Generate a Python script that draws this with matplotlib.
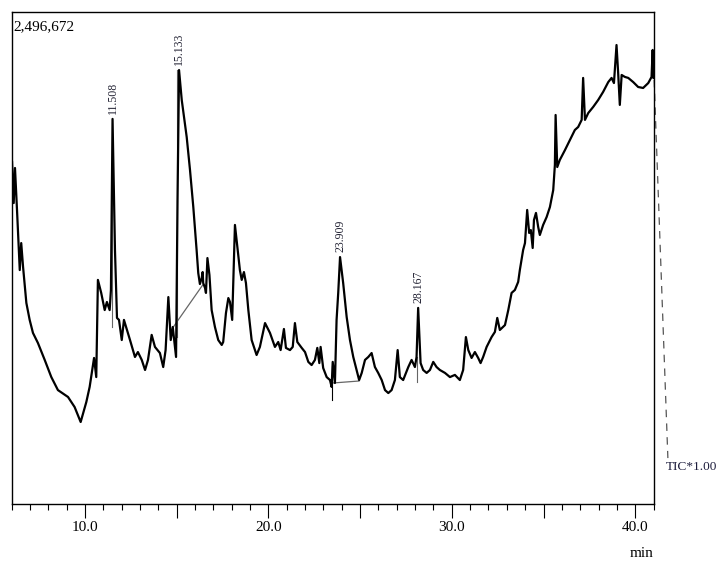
import matplotlib
matplotlib.use("Agg")
import matplotlib.pyplot as plt
from matplotlib.ticker import MultipleLocator, FuncFormatter

plt.rcParams['font.family'] = ['Liberation Serif', 'DejaVu Serif']

# retention time (min) and TIC intensity (x1000 counts)
rt = [6.03, 6.12, 6.19, 6.30, 6.45, 6.53, 6.63, 6.81, 6.99, 7.17, 7.44, 7.81, 8.17, 8.53, 9.08,
      9.44, 9.77, 10.08, 10.26, 10.50, 10.62, 10.71, 10.89, 11.08, 11.20, 11.35, 11.42, 11.508,
      11.64, 11.75, 11.86, 12.01, 12.13, 12.46, 12.73, 12.89, 13.10, 13.28, 13.44, 13.64, 13.82,
      14.09, 14.27, 14.40, 14.55, 14.68, 14.79, 14.91, 14.97, 15.05, 15.133, 15.28, 15.55, 15.73,
      15.91, 16.09, 16.18, 16.27, 16.37, 16.42, 16.45, 16.55, 16.60, 16.68, 16.79, 16.91, 17.09,
      17.27, 17.46, 17.54, 17.69, 17.82, 17.91, 18.03, 18.18, 18.27, 18.45, 18.55, 18.67, 18.78,
      18.91, 19.09, 19.36, 19.54, 19.82, 20.09, 20.36, 20.54, 20.67, 20.85, 20.96, 21.18, 21.33,
      21.45, 21.58, 21.82, 22.00, 22.18, 22.36, 22.54, 22.67, 22.78, 22.85, 22.99, 23.18, 23.36,
      23.45, 23.51, 23.63, 23.72, 23.81, 23.909, 24.08, 24.27, 24.45, 24.63, 24.81, 24.95, 25.09,
      25.27, 25.45, 25.63, 25.81, 25.99, 26.18, 26.36, 26.54, 26.72, 26.90, 27.05, 27.17, 27.35,
      27.63, 27.81, 27.99, 28.08, 28.167, 28.30, 28.44, 28.63, 28.81, 28.99, 29.17, 29.35, 29.63,
      29.90, 30.17, 30.44, 30.62, 30.77, 30.90, 31.08, 31.26, 31.44, 31.57, 31.71, 31.90, 32.17,
      32.35, 32.48, 32.62, 32.90, 33.08, 33.26, 33.44, 33.62, 33.71, 33.89, 33.99, 34.11, 34.22,
      34.31, 34.41, 34.48, 34.59, 34.71, 34.80, 34.98, 35.17, 35.35, 35.53, 35.62, 35.66, 35.75,
      35.89, 36.17, 36.44, 36.71, 36.89, 37.08, 37.16, 37.26, 37.44, 37.71, 37.98, 38.25, 38.53,
      38.71, 38.84, 38.98, 39.07, 39.16, 39.26, 39.44, 39.62, 39.89, 40.16, 40.43, 40.71, 40.89,
      40.95, 41.00]
tic = [1735, 1527, 1705, 1492, 1187, 1324, 1203, 1020, 934, 868, 817, 731, 644, 578, 543,
       492, 416, 518, 594, 741, 644, 1137, 1071, 984, 1025, 984, 1086, 1954,
       1289, 944, 934, 832, 934, 832, 746, 771, 731, 680, 731, 858, 797,
       766, 695, 781, 1050, 832, 898, 797, 746, 1543, 2202, 2050, 1862, 1695,
       1507, 1289, 1172, 1116, 1147, 1177, 1121, 1096, 1071, 1248, 1162, 984, 898,
       832, 807, 822, 969, 1045, 1025, 934, 1416, 1340, 1187, 1137, 1177, 1121,
       984, 832, 756, 797, 918, 868, 797, 822, 781, 888, 792, 781, 797,
       918, 822, 792, 771, 721, 705, 731, 792, 715, 797, 690, 644, 629,
       594, 721, 614, 934, 1071, 1253, 1121, 949, 832, 746, 680, 629, 665,
       731, 746, 766, 695, 665, 629, 578, 563, 578, 629, 781, 644, 629,
       695, 731, 695, 746, 995, 715, 680, 665, 680, 721, 695, 680, 665,
       644, 655, 629, 680, 847, 781, 741, 771, 741, 715, 746, 797, 847,
       873, 944, 883, 908, 984, 1071, 1086, 1127, 1187, 1289, 1324, 1492, 1375,
       1390, 1299, 1441, 1477, 1406, 1365, 1416, 1456, 1507, 1593, 1720, 1974, 1710,
       1746, 1796, 1847, 1898, 1913, 1949, 2162, 1949, 1984, 2015, 2050, 2091, 2141,
       2162, 2136, 2329, 2187, 2025, 2177, 2167, 2162, 2141, 2116, 2111, 2136, 2167,
       2304, 2162]

# trace running off past the end of the run
tail_rt = [41.03, 41.78]
tail_tic = [2152, 233]

peak_rt = [11.508, 15.133, 23.909, 28.167]
peak_tic = [1954, 2202, 1253, 995]
peak_labels = ["11.508", "15.133", "23.909", "28.167"]

full_scale = 2496.672  # x1000 counts
x_range = (6.0, 41.0)

fig = plt.figure(figsize=(7.19, 5.65), dpi=100)
ax = fig.add_axes([0.016, 0.108, 0.893, 0.8708])

ax.plot(rt, tic, color='black', lw=1.6, zorder=3)
ax.plot(tail_rt, tail_tic, color='#555555', lw=0.9, ls=(0, (6, 5)), clip_on=False)

# integration marks
grey = '#666666'
ax.plot([11.46, 11.46], [1949, 898], color=grey, lw=0.8)
ax.plot([15.03, 15.03], [2202, 847], color=grey, lw=0.8)
ax.plot([14.82, 16.42], [898, 1111], color=grey, lw=0.9)
ax.plot([23.53, 24.94], [614, 624], color=grey, lw=0.9)
ax.plot([23.46, 23.46], [700, 528], color='black', lw=0.8)
ax.plot([28.08, 28.08], [746, 619], color=grey, lw=0.8)

for t, v, lab in zip(peak_rt, peak_tic, peak_labels):
    ax.text(t, v + 25, lab, rotation=90, ha='center', va='bottom', fontsize=8.5, color='#222233')

ax.set_xlim(*x_range)
ax.set_ylim(0, full_scale)
ax.set_yticks([])

ax.xaxis.set_major_locator(MultipleLocator(5))
ax.xaxis.set_minor_locator(MultipleLocator(1))
ax.xaxis.set_major_formatter(FuncFormatter(lambda v, p: f"{v:.1f}" if round(v) % 10 == 0 else ""))
ax.tick_params(axis='x', which='major', direction='out', length=10, width=0.8, pad=2, labelsize=11)
ax.tick_params(axis='x', which='minor', direction='out', length=4.5, width=0.8)
for tick in ax.xaxis.get_major_ticks():
    if round(tick.get_loc()) % 10 != 0:
        tick.tick1line.set_markersize(7)

for s in ax.spines.values():
    s.set_linewidth(1.0)

fig.text(0.019, 0.952, "2,496,672", fontsize=11, ha='left', va='center')
fig.text(0.892, 0.021, "min", fontsize=11, ha='center', va='center')
fig.text(0.926, 0.173, "TIC*1.00", fontsize=9.5, ha='left', va='center', color='#1c1c3c')

fig.savefig("out.png", dpi=100)
